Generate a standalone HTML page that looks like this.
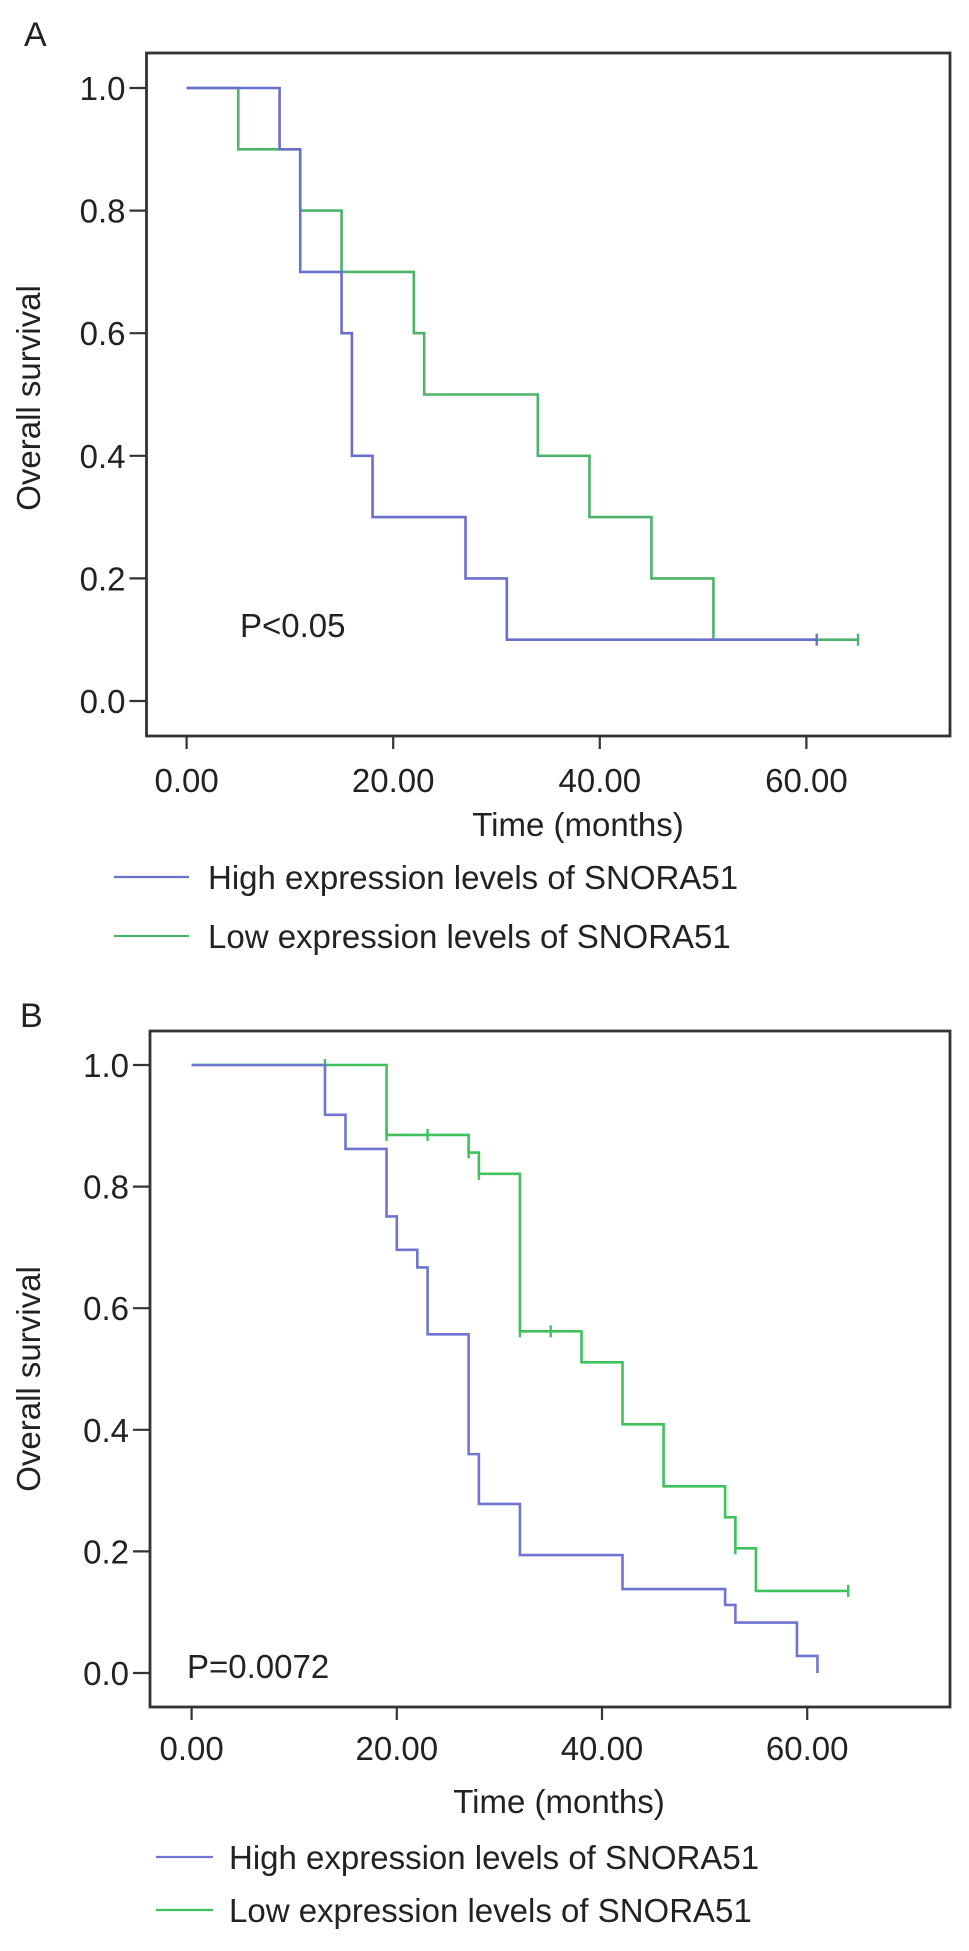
<!DOCTYPE html>
<html><head><meta charset="utf-8"><style>
html,body{margin:0;padding:0;background:#fff;}
svg{display:block;font-family:"Liberation Sans",sans-serif;}
</style></head><body>
<svg id="fig" width="969" height="1951" viewBox="0 0 969 1951" xmlns="http://www.w3.org/2000/svg">
<text x="24" y="46" font-size="34" fill="#222">A</text>
<text x="20" y="1027" font-size="34" fill="#222">B</text>
</svg>
<script>
// Panel A data
const aHighT = [0, 9, 11, 15, 16, 18, 27, 31, 61];
const aHighS = [1.0, 0.9, 0.7, 0.6, 0.4, 0.3, 0.2, 0.1, 0.1];
const aHighCens = [61];
const aLowT = [0, 5, 11, 15, 22, 23, 34, 39, 45, 51, 65];
const aLowS = [1.0, 0.9, 0.8, 0.7, 0.6, 0.5, 0.4, 0.3, 0.2, 0.1, 0.1];
const aLowCens = [65];
// Panel B data
const bHighT = [0, 13, 15, 19, 20, 22, 23, 27, 28, 32, 42, 52, 53, 59, 61, 61];
const bHighS = [1.0, 0.918, 0.862, 0.751, 0.696, 0.667, 0.557, 0.36, 0.278, 0.194, 0.138, 0.112, 0.083, 0.028, 0.028, 0.0];
const bHighCens = [];
const bLowT = [0, 19, 27, 28, 32, 38, 42, 46, 52, 53, 55, 64];
const bLowS = [1.0, 0.885, 0.856, 0.821, 0.562, 0.511, 0.409, 0.307, 0.256, 0.205, 0.135, 0.135];
const bLowCens = [13, 19, 23, 27, 28, 32, 35, 53, 64];
const yTicks = [0, 0.2, 0.4, 0.6, 0.8, 1.0];
const yTickLabels = ["0.0", "0.2", "0.4", "0.6", "0.8", "1.0"];
const xTicks = [0, 20, 40, 60];
const xTickLabels = ["0.00", "20.00", "40.00", "60.00"];

const NS = "http://www.w3.org/2000/svg";
const svg = document.getElementById('fig');
function mk(tag, attrs, parent, name) {
  const e = document.createElementNS(NS, tag);
  for (const k in attrs) e.setAttribute(k, attrs[k]);
  
  
  (parent || svg).appendChild(e);
  return e;
}
function survAt(T, S, t) { let s = S[0]; for (let i = 0; i < T.length; i++) if (T[i] <= t) s = S[i]; return s; }

function panel(cfg) {
  const g = mk('g', {}, svg, cfg.id);
  const X = v => cfg.x0 + (v / 20) * cfg.xs;
  const Y = v => cfg.y0 - v * (cfg.y0 - cfg.y1);
  mk('rect', {x: cfg.bl, y: cfg.bt, width: cfg.br - cfg.bl, height: cfg.bb - cfg.bt, fill: 'none', stroke: '#333', 'stroke-width': 2.8}, g, 'plot-frame');
  yTicks.forEach((v, i) => {
    mk('line', {x1: cfg.bl - 17, x2: cfg.bl, y1: Y(v), y2: Y(v), stroke: '#333', 'stroke-width': 2.2}, g, 'y-tick');
    const t = mk('text', {x: cfg.bl - 21, y: Y(v) + 12, 'font-size': 33, 'text-anchor': 'end', fill: '#222'}, g, 'y-tick-label');
    t.textContent = yTickLabels[i];
  });
  xTicks.forEach((v, i) => {
    mk('line', {x1: X(v), x2: X(v), y1: cfg.bb, y2: cfg.bb + 13, stroke: '#333', 'stroke-width': 2.2}, g, 'x-tick');
    const t = mk('text', {x: X(v), y: cfg.xly, 'font-size': 33, 'text-anchor': 'middle', fill: '#222'}, g, 'x-tick-label');
    t.textContent = xTickLabels[i];
  });
  const xt = mk('text', {x: cfg.xtx, y: cfg.xty, 'font-size': 33, 'text-anchor': 'middle', fill: '#222'}, g, 'x-axis-title');
  xt.textContent = 'Time (months)';
  const yt = mk('text', {x: 0, y: 0, 'font-size': 33, 'text-anchor': 'middle', fill: '#222', transform: `translate(${cfg.ytx},${cfg.yty}) rotate(-90)`}, g, 'y-axis-title');
  yt.textContent = 'Overall survival';
  const pt = mk('text', {x: cfg.px, y: cfg.py, 'font-size': 33, fill: '#222'}, g, 'p-value');
  pt.textContent = cfg.ptext;
  function curve(T, S, C, color, name) {
    let d = `M${X(T[0])},${Y(S[0])}`;
    for (let i = 1; i < T.length; i++) d += ` H${X(T[i])} V${Y(S[i])}`;
    mk('path', {d: d, fill: 'none', stroke: color, 'stroke-width': 2.6}, g, name);
    C.forEach(c => {
      const s = survAt(T, S, c);
      mk('line', {x1: X(c), x2: X(c), y1: Y(s) - 6, y2: Y(s) + 6, stroke: color, 'stroke-width': 2.4}, g, 'censor-mark');
    });
  }
  curve(cfg.lowT, cfg.lowS, cfg.lowC, cfg.green, 'low-expression-curve');
  curve(cfg.highT, cfg.highS, cfg.highC, cfg.blue, 'high-expression-curve');
  mk('line', {x1: cfg.lgx1, x2: cfg.lgx2, y1: cfg.lg1y, y2: cfg.lg1y, stroke: cfg.blue, 'stroke-width': 2.2}, g, 'legend-high-swatch');
  const l1 = mk('text', {x: cfg.lgtx, y: cfg.lg1y + 12, 'font-size': 33, fill: '#222'}, g, 'legend-high-label');
  l1.textContent = 'High expression levels of SNORA51';
  mk('line', {x1: cfg.lgx1, x2: cfg.lgx2, y1: cfg.lg2y, y2: cfg.lg2y, stroke: cfg.green, 'stroke-width': 2.2}, g, 'legend-low-swatch');
  const l2 = mk('text', {x: cfg.lgtx, y: cfg.lg2y + 12, 'font-size': 33, fill: '#222'}, g, 'legend-low-label');
  l2.textContent = 'Low expression levels of SNORA51';
}

panel({id: 'panel-a', bl: 146.5, br: 950, bt: 53, bb: 736, x0: 186.6, xs: 206.6, y0: 701, y1: 88,
  xly: 792, xtx: 578, xty: 836, ytx: 40, yty: 398, px: 240, py: 637, ptext: 'P<0.05',
  highT: aHighT, highS: aHighS, highC: aHighCens, lowT: aLowT, lowS: aLowS, lowC: aLowCens,
  blue: '#6a6fcf', green: '#4db36a', lgx1: 114, lgx2: 189, lgtx: 208, lg1y: 877, lg2y: 936});
panel({id: 'panel-b', bl: 150, br: 950, bt: 1031, bb: 1707, x0: 191.6, xs: 205.2, y0: 1673, y1: 1065,
  xly: 1760, xtx: 559, xty: 1813, ytx: 40, yty: 1379, px: 187, py: 1678, ptext: 'P=0.0072',
  highT: bHighT, highS: bHighS, highC: bHighCens, lowT: bLowT, lowS: bLowS, lowC: bLowCens,
  blue: '#7075d2', green: '#3fc25c', lgx1: 156, lgx2: 213, lgtx: 229, lg1y: 1857, lg2y: 1910});
</script>
</body></html>
